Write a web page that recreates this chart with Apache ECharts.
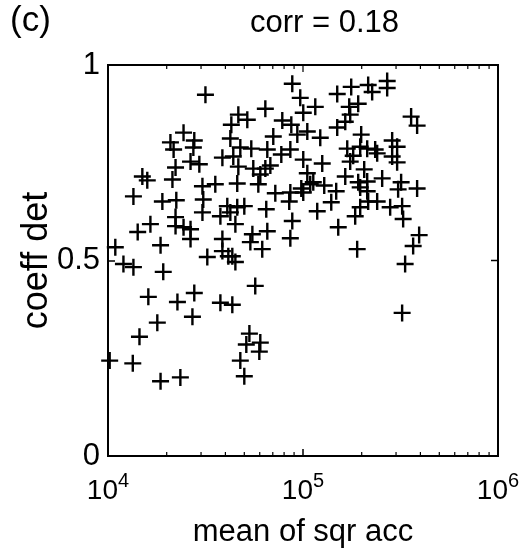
<!DOCTYPE html>
<html>
<head>
<meta charset="utf-8">
<script src="https://cdn.jsdelivr.net/npm/echarts@6/dist/echarts.min.js"></script>
<style>
  html, body { margin: 0; padding: 0; background: #fff; }
  #chart { width: 525px; height: 553px; }
</style>
</head>
<body>
<div id="chart"></div>
<script>
// Mean of squared acceleration (x, log scale) against coefficient of determination (y)
const meanSqrAcc = [
  31600, 46600, 42900, 42400, 47700, 24400, 27700, 20900, 21700, 27400,
  22200, 26500, 29400, 38600, 43900, 15000, 15900, 21400, 30500, 35500,
  13500, 30800, 19000, 22400, 40900, 46000, 50000, 46000, 30500, 37700,
  42400, 16500, 14200, 22200, 22200, 24400, 26500, 26500, 18600, 10900,
  12000, 13500, 38600, 38600, 41400, 32300, 19200, 16100, 22700, 27700,
  37700, 43400, 56900, 17900, 27100, 14500, 53100, 51200, 60400, 59700,
  47700, 50000, 10200, 13400, 18600, 23500, 64100, 88100, 96800, 78300,
  87100, 70400, 51800, 54300, 65600, 77400, 86100, 93500, 105200, 122600,
  115600, 100300, 46600, 55600, 64100, 68000, 60400, 59000, 72100, 86100,
  85000, 64800, 100300, 125500, 105200, 112900, 98000, 108900, 100300, 128500,
  148000, 139600, 118300, 88100, 86100, 45000, 55000, 65600, 53700, 61800,
  43400, 45000, 151600, 185200, 189600, 322400, 334000, 367200, 394100, 326300,
  149800, 176700, 215900, 270200, 270200, 226300, 172600, 191900, 174600, 164700,
  149800, 198800, 358500, 384800, 286600, 303900, 168600, 180900, 196500, 234500,
  240100, 286600, 303900, 174600, 206000, 164700, 191900, 213400, 254700, 318600,
  384800, 196500, 213400, 307500, 215900, 240100, 196500, 279900, 322400, 213400
];
const coeffDet = [
  0.924, 0.873, 0.847, 0.812, 0.789, 0.827, 0.807, 0.802, 0.784, 0.789,
  0.738, 0.753, 0.746, 0.763, 0.766, 0.715, 0.705, 0.707, 0.690, 0.695,
  0.664, 0.656, 0.651, 0.654, 0.639, 0.636, 0.639, 0.697, 0.623, 0.613,
  0.623, 0.593, 0.573, 0.611, 0.588, 0.585, 0.580, 0.555, 0.539, 0.534,
  0.491, 0.483, 0.555, 0.524, 0.511, 0.509, 0.471, 0.407, 0.394, 0.417,
  0.392, 0.387, 0.435, 0.341, 0.356, 0.305, 0.313, 0.285, 0.290, 0.267,
  0.244, 0.204, 0.244, 0.237, 0.191, 0.201, 0.888, 0.952, 0.916, 0.858,
  0.847, 0.817, 0.860, 0.786, 0.784, 0.771, 0.784, 0.822, 0.830, 0.814,
  0.893, 0.878, 0.740, 0.735, 0.735, 0.743, 0.720, 0.695, 0.672, 0.674,
  0.651, 0.631, 0.758, 0.748, 0.723, 0.700, 0.684, 0.695, 0.674, 0.692,
  0.677, 0.649, 0.626, 0.601, 0.557, 0.593, 0.567, 0.575, 0.547, 0.529,
  0.511, 0.496, 0.585, 0.613, 0.529, 0.366, 0.491, 0.537, 0.565, 0.606,
  0.926, 0.944, 0.949, 0.959, 0.941, 0.931, 0.893, 0.901, 0.873, 0.855,
  0.840, 0.822, 0.868, 0.845, 0.807, 0.791, 0.786, 0.768, 0.791, 0.784,
  0.774, 0.766, 0.751, 0.753, 0.733, 0.715, 0.700, 0.702, 0.710, 0.700,
  0.684, 0.687, 0.677, 0.682, 0.651, 0.651, 0.636, 0.636, 0.639, 0.786
];

const panelLabel = '(c)';
const titleText = 'corr = 0.18';
const xName = 'mean of sqr acc';
const yName = 'coeff det';
const xMin = 1e4, xMax = 1e6;
const yMin = 0, yMax = 1, yStep = 0.5;
// minor decade ticks drawn along the top and bottom frame edges
const minorTicks = [2e4, 3e4, 4e4, 5e4, 6e4, 7e4, 8e4, 9e4, 2e5, 3e5, 4e5, 5e5, 6e5, 7e5, 8e5, 9e5];
// major ticks mirrored on the top and right frame edges
const topMajorTicks = [1e5];
const rightMajorTicks = [0.5];

const FONT = '"Liberation Sans", Arial, Helvetica, sans-serif';
const points = meanSqrAcc.map((x, i) => [x, coeffDet[i]]);
// plus-sign marker, arms about 2.4 units thick in a 17-unit box
const plusPath = 'path://M7.3,0H9.7V7.3H17V9.7H9.7V17H7.3V9.7H0V7.3H7.3Z';

const chart = echarts.init(document.getElementById('chart'), null, { renderer: 'canvas' });
chart.setOption({
  animation: false,
  backgroundColor: '#ffffff',
  title: [
    { text: panelLabel, left: 5, top: -1,
      textStyle: { fontFamily: FONT, fontSize: 35, fontWeight: 'normal', color: '#000' } },
    { text: titleText, left: 245, top: 3,
      textStyle: { fontFamily: FONT, fontSize: 31, fontWeight: 'normal', color: '#000' } }
  ],
  grid: { left: 108, right: 27, top: 65, bottom: 95, show: true, borderColor: '#000', borderWidth: 2, backgroundColor: 'transparent' },
  xAxis: {
    type: 'log', logBase: 10, min: xMin, max: xMax,
    name: xName, nameLocation: 'middle', nameGap: 61,
    nameTextStyle: { fontFamily: FONT, fontSize: 31, color: '#000' },
    axisLine: { show: true, lineStyle: { color: '#000', width: 2 } },
    axisTick: { show: true, inside: true, length: 7, lineStyle: { color: '#000', width: 1.5 } },
    splitLine: { show: false },
    axisLabel: {
      margin: 15, color: '#000',
      formatter: function (v) { return '{b|10}{s|' + Math.round(Math.log10(v)) + '}'; },
      rich: {
        b: { fontFamily: FONT, fontSize: 28, color: '#000', lineHeight: 34, verticalAlign: 'bottom' },
        s: { fontFamily: FONT, fontSize: 20, color: '#000', lineHeight: 34, verticalAlign: 'top', padding: [0, 0, 14, 0] }
      }
    }
  },
  yAxis: {
    type: 'value', min: yMin, max: yMax, interval: yStep,
    name: yName, nameLocation: 'middle', nameGap: 53, nameMoveOverlap: false,
    nameTextStyle: { fontFamily: FONT, fontSize: 36, color: '#000' },
    axisLine: { show: true, lineStyle: { color: '#000', width: 2 } },
    axisTick: { show: true, inside: true, length: 7, lineStyle: { color: '#000', width: 1.5 } },
    splitLine: { show: false },
    axisLabel: { margin: 8, fontFamily: FONT, fontSize: 31, color: '#000' }
  },
  series: [
    {
      type: 'scatter',
      data: points,
      symbol: plusPath,
      symbolSize: 17,
      itemStyle: { color: '#000', opacity: 1 },
      z: 3
    },
    {
      type: 'custom',
      coordinateSystem: 'cartesian2d',
      silent: true,
      data: minorTicks.map(v => [v, 0, 4]).concat(topMajorTicks.map(v => [v, 0, 7])),
      encode: { x: 0, y: 1 },
      renderItem: function (params, api) {
        const x = api.value(0), len = api.value(2);
        const b = api.coord([x, yMin]);
        const t = api.coord([x, yMax]);
        const kids = [
          { type: 'line', shape: { x1: t[0], y1: t[1], x2: t[0], y2: t[1] + len }, style: { stroke: '#000', lineWidth: 1.2 } }
        ];
        if (len < 7) {
          kids.push({ type: 'line', shape: { x1: b[0], y1: b[1], x2: b[0], y2: b[1] - len }, style: { stroke: '#000', lineWidth: 1.2 } });
        }
        return { type: 'group', children: kids };
      },
      z: 4
    },
    {
      type: 'custom',
      coordinateSystem: 'cartesian2d',
      silent: true,
      data: rightMajorTicks.map(v => [xMax, v]),
      encode: { x: 0, y: 1 },
      renderItem: function (params, api) {
        const p = api.coord([xMax, api.value(1)]);
        return { type: 'line', shape: { x1: p[0], y1: p[1], x2: p[0] - 7, y2: p[1] }, style: { stroke: '#000', lineWidth: 1.5 } };
      },
      z: 4
    }
  ]
});
</script>
</body>
</html>
